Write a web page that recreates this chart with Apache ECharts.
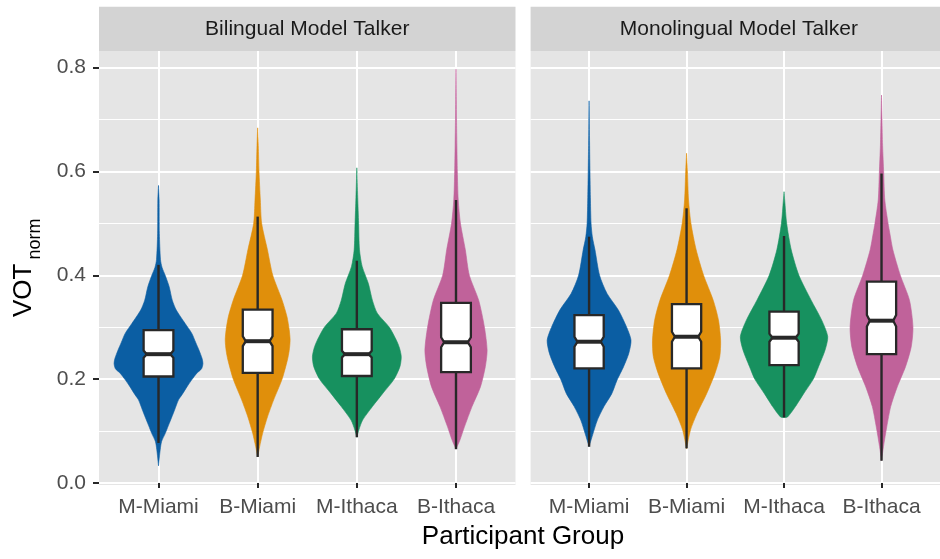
<!DOCTYPE html>
<html>
<head>
<meta charset="utf-8">
<script src="https://cdn.jsdelivr.net/npm/echarts@6/dist/echarts.min.js"></script>
<style>
  html, body { margin: 0; padding: 0; background: #ffffff; }
  #chart { width: 940px; height: 559px; }
</style>
</head>
<body>
<div id="chart"></div>
<script>
// ---- data ----------------------------------------------------------------
const groups = ['M-Miami', 'B-Miami', 'M-Ithaca', 'B-Ithaca'];
const talkers = ['Bilingual Model Talker', 'Monolingual Model Talker'];
const yTicks = [0, 0.2, 0.4, 0.6, 0.8];
const yMinorTicks = [0.1, 0.3, 0.5, 0.7];

// Box statistics, Bilingual Model Talker
const bilWhiskerLow  = [0.077, 0.050, 0.088, 0.065];
const bilQ1          = [0.205, 0.212, 0.206, 0.2135];
const bilMedian      = [0.248, 0.273, 0.248, 0.271];
const bilQ3          = [0.2945, 0.334, 0.296, 0.347];
const bilWhiskerHigh = [0.420, 0.513, 0.428, 0.545];
const bilNotch       = [0.007, 0.0096, 0.0064, 0.0096];

// Box statistics, Monolingual Model Talker
const monWhiskerLow  = [0.0697, 0.0665, 0.1262, 0.0427];
const monQ1          = [0.2206, 0.2206, 0.227, 0.2482];
const monMedian      = [0.272, 0.2816, 0.2797, 0.3125];
const monQ3          = [0.3234, 0.3446, 0.3298, 0.3876];
const monWhiskerHigh = [0.4743, 0.529, 0.4756, 0.596];
const monNotch       = [0.0096, 0.0096, 0.0077, 0.011];

// Kernel density outlines (VOT value, relative density), Bilingual talker
const bilMMiamiVot  = [0.033,0.05,0.065,0.08,0.095,0.11,0.127,0.14,0.16,0.17,0.185,0.2,0.211,0.22,0.23,0.24,0.256,0.27,0.288,0.307,0.333,0.352,0.378,0.40,0.415,0.43,0.48,0.545,0.573];
const bilMMiamiDens = [0,0.02,0.04,0.07,0.15,0.22,0.30,0.36,0.45,0.53,0.64,0.76,0.86,0.97,1.0,0.98,0.91,0.84,0.75,0.60,0.40,0.31,0.24,0.15,0.08,0.045,0.02,0.015,0];
const bilBMiamiVot  = [0.05,0.07,0.095,0.127,0.16,0.2,0.237,0.255,0.275,0.295,0.32,0.352,0.40,0.449,0.50,0.545,0.60,0.65,0.684];
const bilBMiamiDens = [0,0.045,0.11,0.22,0.36,0.55,0.67,0.71,0.73,0.71,0.66,0.55,0.34,0.22,0.09,0.06,0.03,0.015,0];
const bilMIthacaVot  = [0.088,0.102,0.121,0.147,0.172,0.2,0.224,0.243,0.26,0.275,0.30,0.327,0.352,0.384,0.417,0.449,0.50,0.55,0.607];
const bilMIthacaDens = [0,0.045,0.13,0.35,0.58,0.84,0.97,1.0,0.96,0.89,0.73,0.46,0.35,0.26,0.12,0.06,0.04,0.02,0];
const bilBIthacaVot  = [0.065,0.083,0.108,0.147,0.185,0.224,0.256,0.30,0.352,0.40,0.449,0.50,0.545,0.60,0.65,0.70,0.738,0.797];
const bilBIthacaDens = [0,0.09,0.19,0.36,0.55,0.66,0.70,0.64,0.51,0.30,0.21,0.10,0.05,0.03,0.02,0.012,0.008,0];

// Kernel density outlines, Monolingual talker
const monMMiamiVot  = [0.07,0.095,0.121,0.147,0.172,0.198,0.224,0.25,0.275,0.30,0.333,0.365,0.40,0.449,0.474,0.50,0.55,0.60,0.65,0.736];
const monMMiamiDens = [0,0.09,0.19,0.34,0.52,0.64,0.79,0.91,0.96,0.86,0.67,0.41,0.24,0.135,0.075,0.045,0.03,0.02,0.012,0];
const monBMiamiVot  = [0.066,0.102,0.134,0.172,0.211,0.243,0.275,0.314,0.352,0.40,0.449,0.50,0.545,0.60,0.635];
const monBMiamiDens = [0,0.09,0.24,0.46,0.65,0.76,0.78,0.73,0.61,0.39,0.22,0.10,0.045,0.02,0];
const monMIthacaVot  = [0.126,0.127,0.147,0.172,0.2,0.224,0.256,0.282,0.314,0.352,0.40,0.449,0.50,0.545,0.561];
const monMIthacaDens = [0,0.08,0.26,0.45,0.67,0.79,0.94,1.0,0.86,0.62,0.34,0.165,0.06,0.015,0];
const monBIthacaVot  = [0.043,0.07,0.108,0.147,0.185,0.224,0.262,0.30,0.352,0.40,0.449,0.481,0.50,0.545,0.597,0.65,0.70,0.747];
const monBIthacaDens = [0,0.045,0.12,0.21,0.36,0.55,0.68,0.72,0.64,0.43,0.26,0.19,0.15,0.075,0.05,0.025,0.012,0];

// ---- styling ---------------------------------------------------------------
const groupColors = ['#0B5EA3', '#E08F0B', '#17915F', '#C0629A'];
const FONT = "'Liberation Sans', Arial, Helvetica, sans-serif";
const PANEL_BG = '#E5E5E5';
const STRIP_BG = '#D3D3D3';
const INK = '#282828';
const Y_MIN = -0.004, Y_MAX = 0.832;
const VIOLIN_SCALE = 0.448;   // half-width (in category units) at density 1
const BOX_HALF = 0.15;        // half box width in category units
const NOTCH_INDENT = 0.2;     // fraction of box half-width
const MEDIAN_THICKNESS = 4;   // px

const panels = [
  { left: 99, width: 416.5,
    stats: { low: bilWhiskerLow, q1: bilQ1, med: bilMedian, q3: bilQ3, high: bilWhiskerHigh, notch: bilNotch },
    profiles: [
      { vot: bilMMiamiVot, dens: bilMMiamiDens },
      { vot: bilBMiamiVot, dens: bilBMiamiDens },
      { vot: bilMIthacaVot, dens: bilMIthacaDens },
      { vot: bilBIthacaVot, dens: bilBIthacaDens }
    ] },
  { left: 530.6, width: 416.5,
    stats: { low: monWhiskerLow, q1: monQ1, med: monMedian, q3: monQ3, high: monWhiskerHigh, notch: monNotch },
    profiles: [
      { vot: monMMiamiVot, dens: monMMiamiDens },
      { vot: monBMiamiVot, dens: monBMiamiDens },
      { vot: monMIthacaVot, dens: monMIthacaDens },
      { vot: monBIthacaVot, dens: monBIthacaDens }
    ] }
];
const GRID_TOP = 51, GRID_HEIGHT = 434;

// One violin + notched box per data item
function violinRenderer(panel) {
  return function (params, api) {
    const i = params.dataIndex;
    const cat = api.value(0);
    const prof = panel.profiles[i];
    const s = panel.stats;
    const right = [], left = [];
    for (let k = 0; k < prof.vot.length; k++) {
      const w = prof.dens[k] * VIOLIN_SCALE;
      right.push(api.coord([cat + w, prof.vot[k]]));
      left.push(api.coord([cat - w, prof.vot[k]]));
    }
    const outline = right.concat(left.reverse());
    const color = groupColors[i];

    const xl = api.coord([cat - BOX_HALF, 0])[0];
    const xr = api.coord([cat + BOX_HALF, 0])[0];
    const xc = api.coord([cat, 0])[0];
    const indent = (xr - xl) / 2 * NOTCH_INDENT;
    const yQ1 = api.coord([cat, s.q1[i]])[1];
    const yQ3 = api.coord([cat, s.q3[i]])[1];
    const yMed = api.coord([cat, s.med[i]])[1];
    const yNL = api.coord([cat, s.med[i] - s.notch[i]])[1];
    const yNH = api.coord([cat, s.med[i] + s.notch[i]])[1];
    const yLow = api.coord([cat, s.low[i]])[1];
    const yHigh = api.coord([cat, s.high[i]])[1];

    const box = [
      [xl, yQ1], [xl, yNL], [xl + indent, yMed], [xl, yNH], [xl, yQ3],
      [xr, yQ3], [xr, yNH], [xr - indent, yMed], [xr, yNL], [xr, yQ1]
    ];

    return {
      type: 'group',
      children: [
        { type: 'polygon', shape: { points: outline, smooth: 0.25 },
          style: { fill: color, stroke: color, lineWidth: 0.6 } },
        { type: 'line', shape: { x1: xc, y1: yQ3, x2: xc, y2: yHigh },
          style: { stroke: INK, lineWidth: 2.4 } },
        { type: 'line', shape: { x1: xc, y1: yLow, x2: xc, y2: yQ1 },
          style: { stroke: INK, lineWidth: 2.4 } },
        { type: 'polygon', shape: { points: box },
          style: { fill: '#FFFFFF', stroke: INK, lineWidth: 2.3, lineJoin: 'miter' } },
        { type: 'rect',
          shape: { x: xl + indent - 1, y: yMed - MEDIAN_THICKNESS / 2,
                   width: (xr - xl) - 2 * indent + 2, height: MEDIAN_THICKNESS },
          style: { fill: INK } }
      ]
    };
  };
}

const grids = [], xAxes = [], yAxes = [], series = [];
panels.forEach((p, pi) => {
  grids.push({ left: p.left, top: GRID_TOP, width: p.width, height: GRID_HEIGHT,
               show: true, backgroundColor: PANEL_BG, borderWidth: 0 });
  xAxes.push({
    gridIndex: pi, type: 'value', min: 0.4, max: 4.6,
    axisLine: { show: false },
    axisTick: { show: true, customValues: [1, 2, 3, 4], length: 5, lineStyle: { color: INK, width: 2 } },
    axisLabel: { customValues: [1, 2, 3, 4], formatter: v => groups[Math.round(v) - 1],
                 color: '#4D4D4D', fontSize: 21, fontFamily: FONT, margin: 12 },
    splitLine: { show: true, lineStyle: { color: '#FFFFFF', width: 2 } }
  });
  yAxes.push({
    gridIndex: pi, type: 'value', min: Y_MIN, max: Y_MAX,
    axisLine: { show: false },
    axisTick: { show: pi === 0, customValues: yTicks, length: 6, lineStyle: { color: INK, width: 2 } },
    axisLabel: { show: pi === 0, customValues: yTicks, formatter: v => v.toFixed(1),
                 color: '#4D4D4D', fontSize: 21, fontFamily: FONT, margin: 13 },
    splitLine: { show: true, lineStyle: { color: '#FFFFFF', width: 2 } }
  });
  yAxes.push({
    gridIndex: pi, type: 'value', min: Y_MIN, max: Y_MAX, position: 'left',
    axisLine: { show: false },
    axisTick: { show: false, customValues: yMinorTicks },
    axisLabel: { show: false, customValues: yMinorTicks },
    splitLine: { show: true, lineStyle: { color: '#FFFFFF', width: 1 } }
  });
  series.push({
    type: 'custom', xAxisIndex: pi, yAxisIndex: pi * 2,
    data: groups.map((g, i) => [i + 1]),
    renderItem: violinRenderer(p), z: 5, silent: true
  });
});

// Facet strips and axis titles
const graphics = [];
panels.forEach((p, pi) => {
  graphics.push({ type: 'rect', shape: { x: p.left, y: 6.7, width: p.width, height: 44.3 },
                  style: { fill: STRIP_BG }, silent: true });
  graphics.push({ type: 'text', x: p.left + p.width / 2, y: 29,
                  style: { text: talkers[pi], fill: '#1A1A1A', font: '21px ' + FONT,
                           align: 'center', verticalAlign: 'middle',
                           textAlign: 'center', textVerticalAlign: 'middle' }, silent: true });
});
graphics.push({ type: 'text', x: 523, y: 537,
                style: { text: 'Participant Group', fill: '#000000', font: '26px ' + FONT,
                         align: 'center', verticalAlign: 'middle',
                         textAlign: 'center', textVerticalAlign: 'middle' }, silent: true });
graphics.push({ type: 'group', x: 24, y: 268.5, rotation: Math.PI / 2, silent: true,
  children: [
    { type: 'text', x: -48.5, y: 0,
      style: { text: 'VOT', fill: '#000000', font: '26px ' + FONT,
               align: 'left', verticalAlign: 'middle', textAlign: 'left', textVerticalAlign: 'middle' } },
    { type: 'text', x: 9, y: 11.5,
      style: { text: 'norm', fill: '#000000', font: '18px ' + FONT,
               align: 'left', verticalAlign: 'middle', textAlign: 'left', textVerticalAlign: 'middle' } }
  ] });

const chart = echarts.init(document.getElementById('chart'), null, { renderer: 'canvas' });
chart.setOption({
  animation: false,
  backgroundColor: '#FFFFFF',
  textStyle: { fontFamily: FONT },
  grid: grids,
  xAxis: xAxes,
  yAxis: yAxes,
  series: series,
  graphic: graphics
});
</script>
</body>
</html>
